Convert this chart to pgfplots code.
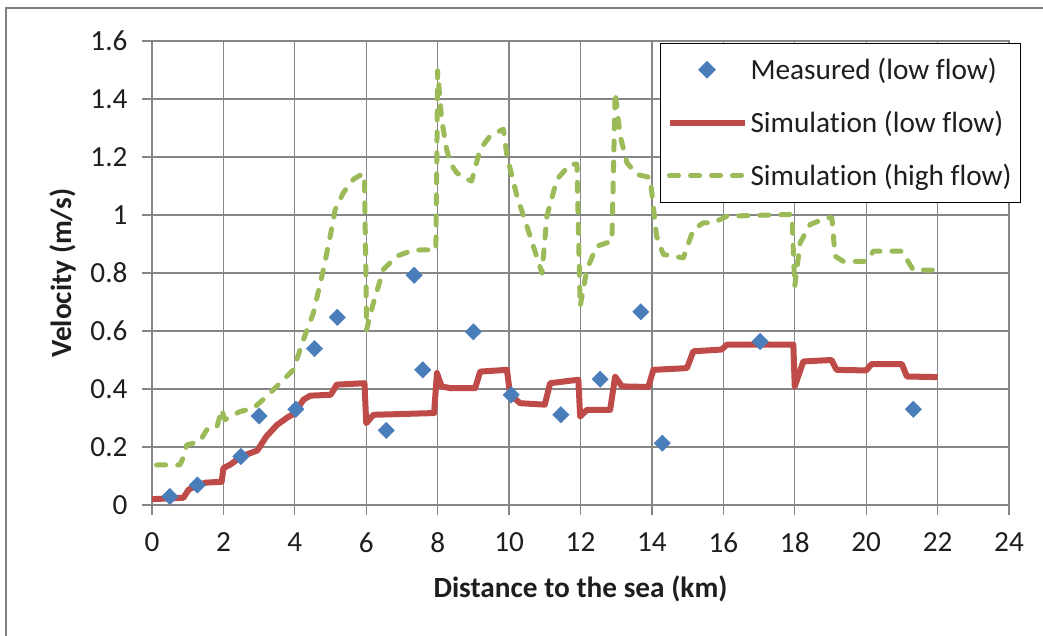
\documentclass[border=0pt]{standalone}
\usepackage{fontspec}
\setmainfont{Carlito}[Ligatures={NoCommon}]
\usepackage{pgfplots}
\pgfplotsset{compat=1.18}
\definecolor{meas}{RGB}{74,126,187}
\definecolor{lowc}{RGB}{190,75,72}
\definecolor{highc}{RGB}{155,187,89}
\definecolor{gridc}{RGB}{134,134,134}
\definecolor{framec}{RGB}{128,128,128}
\definecolor{txt}{RGB}{30,30,30}
\pgfplotsset{mylegimg/.style={legend image code/.code={\draw[mark repeat=2,mark phase=2,##1] plot coordinates {(0pt,0pt) (37.5pt,0pt) (75pt,0pt)};}}}
\begin{document}
\begin{tikzpicture}[x=1pt,y=1pt]
\useasboundingbox (0,0) rectangle (1043,636);
\draw[framec, line width=2.5pt] (6,-5) -- (6,628) -- (1050,628);
\begin{axis}[
  at={(152pt,131pt)}, anchor=south west,
  scale only axis, width=857pt, height=464pt,
  xmin=0, xmax=24, ymin=0, ymax=1.6,
  xtick={0,2,...,24}, ytick={0,0.2,...,1.6},
  grid=major,
  major grid style={gridc, line width=1.3pt},
  axis line style={gridc, line width=1.3pt},
  tick style={gridc, line width=1.3pt},
  tick align=outside, major tick length=10pt,
  xtick pos=bottom, ytick pos=left,
  /pgf/number format/assume math mode=true,
  ticklabel style={font=\fontsize{29.2}{34}\selectfont, text=txt},
  xticklabel style={anchor=north, yshift=-14pt},
  yticklabel style={anchor=east, xshift=-11pt},
  xlabel={Distance to the sea (km)},
  ylabel={Velocity (m/s)},
  every axis x label/.style={at={(axis description cs:0.5,-0.181)}, anchor=center, font=\fontsize{29.3}{34}\selectfont\bfseries, text=txt},
  every axis y label/.style={at={(axis description cs:-0.1039,0.5)}, rotate=90, anchor=center, font=\fontsize{29.3}{34}\selectfont\bfseries, text=txt},
  reverse legend,
  legend style={at={(axis description cs:0.5928,0.9963)}, anchor=north west,
    draw=black, line width=1pt, fill=white, text=txt,
    inner xsep=6pt, inner ysep=0pt, row sep=0pt,
    font=\fontsize{29.3}{34}\selectfont,
    nodes={inner xsep=3pt, inner ysep=0pt, text height=36.5pt, text depth=16.5pt}},
  legend cell align=left,
  mylegimg,
]
\addplot[highc, line width=5pt, dash pattern=on 9pt off 12pt, line cap=round, line join=round] coordinates {
(0.13,0.138) (0.78,0.138) (0.9,0.17) (0.97,0.207) (1.34,0.219) (1.53,0.259) (1.81,0.265)
(1.95,0.33) (2.04,0.294) (2.46,0.322) (2.84,0.334) (3.21,0.374) (3.68,0.432) (3.96,0.466)
(4.24,0.57) (4.52,0.662) (4.80,0.812) (4.99,0.927) (5.13,1.019) (5.36,1.077) (5.64,1.123)
(5.87,1.14) (5.95,1.14) (6.01,0.605) (6.2,0.697) (6.48,0.812) (6.85,0.858) (7.32,0.879)
(7.95,0.88) (8.0,1.497) (8.11,1.33) (8.25,1.227) (8.35,1.18) (8.53,1.146) (8.72,1.129)
(8.95,1.117) (9.19,1.227) (9.47,1.273) (9.84,1.296) (9.94,1.204) (10.22,1.065) (10.59,0.927)
(10.92,0.80) (11.06,0.996) (11.34,1.123) (11.71,1.175) (11.9,1.175) (11.99,0.685) (12.18,0.812)
(12.45,0.892) (12.88,0.91) (12.97,1.423) (13.11,1.273) (13.3,1.18) (13.58,1.14) (13.95,1.129)
(14.13,0.927) (14.32,0.864) (14.88,0.852) (15.16,0.95) (15.44,0.973) (15.72,0.973) (16.1,0.996)
(17.92,1.002) (18.0,0.754) (18.15,0.904) (18.43,0.967) (18.9,0.991) (19.04,0.99) (19.13,0.858)
(19.36,0.84) (20.0,0.84) (20.2,0.875) (21.0,0.875) (21.32,0.81) (22.0,0.81)
};
\addlegendentry{Simulation (high flow)}
\addplot[lowc, line width=6pt, line join=round] coordinates {
(0,0.02) (0.88,0.025) (1.02,0.052) (1.2,0.065) (1.5,0.077) (1.95,0.08) (2.0,0.127) (2.2,0.14)
(2.5,0.167) (2.95,0.188) (3.2,0.236) (3.5,0.276) (3.77,0.30) (4.0,0.317) (4.24,0.363) (4.43,0.377)
(5.0,0.38) (5.08,0.395) (5.17,0.415) (5.95,0.42) (6.0,0.282) (6.2,0.311) (7.9,0.317) (7.98,0.455)
(8.11,0.409) (8.35,0.403) (9.05,0.403) (9.19,0.46) (9.94,0.466) (10.03,0.38) (10.31,0.351)
(11.0,0.346) (11.15,0.42) (11.94,0.432) (11.99,0.305) (12.18,0.328) (12.83,0.328) (12.97,0.443)
(13.16,0.409) (13.9,0.407) (14.04,0.466) (14.98,0.472) (15.16,0.53) (15.95,0.536) (16.1,0.553)
(17.96,0.553) (18.0,0.409) (18.24,0.495) (19.03,0.5) (19.17,0.466) (20.0,0.464) (20.15,0.486)
(21.0,0.486) (21.14,0.443) (22.0,0.441)
};
\addlegendentry{Simulation (low flow)}
\addplot[only marks, mark=square*, mark size=5.8pt, mark options={rotate=45, fill=meas, draw=meas}] coordinates {
(0.50,0.029) (1.27,0.069) (2.49,0.167) (3.0,0.307) (4.03,0.330) (4.55,0.539) (5.19,0.647)
(6.56,0.257) (7.34,0.792) (7.58,0.466) (9.0,0.597) (10.06,0.380) (11.45,0.311) (12.55,0.434)
(13.69,0.666) (14.29,0.213) (17.03,0.564) (21.32,0.330)
};
\addlegendentry{Measured (low flow)}
\end{axis}
\end{tikzpicture}
\end{document}
